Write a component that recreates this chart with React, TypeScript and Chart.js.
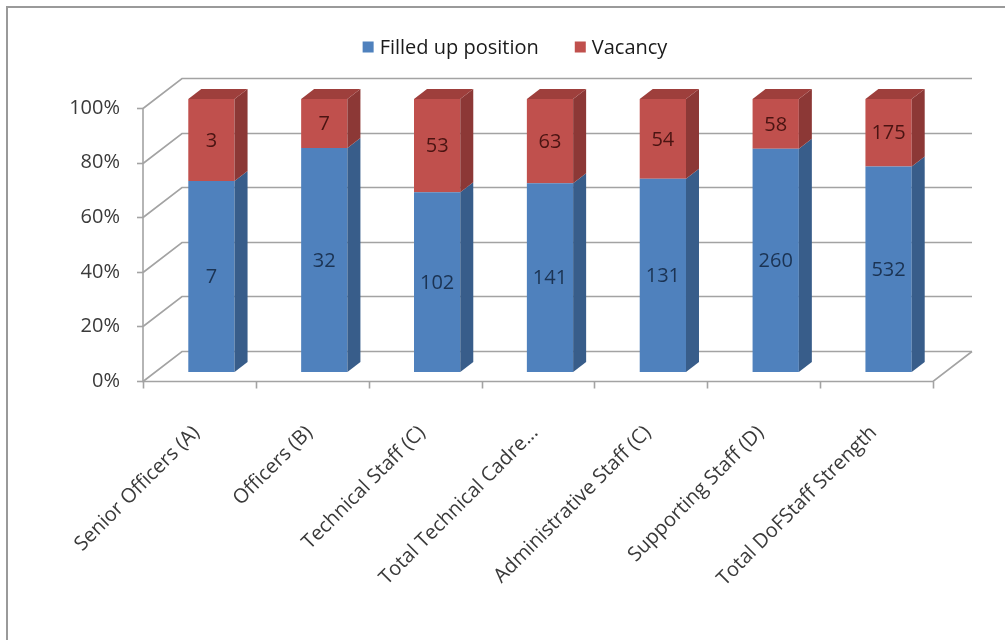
import React, { useEffect, useRef } from 'react';
import { Chart, registerables } from 'chart.js';

Chart.register(...registerables);

const categories = [
  'Senior Officers (A)',
  'Officers (B)',
  'Technical Staff (C)',
  'Total Technical Cadre...',
  'Administrative Staff (C)',
  'Supporting Staff (D)',
  'Total DoFStaff Strength',
];
const seriesNames = ['Filled up position', 'Vacancy'];
const filledUp = [7, 32, 102, 141, 131, 260, 532];
const vacancy = [3, 7, 53, 63, 54, 58, 175];
const yTickValues = [0, 20, 40, 60, 80, 100];

const FONT = '"Open Sans", "Noto Sans", sans-serif';
const FRONT_COLORS = ['#4F81BD', '#C0504D'];
const SIDE_COLORS = ['#385D8A', '#8C3836'];
const TOP_COLORS = ['#4470A8', '#9E3F3C'];
const LABEL_COLORS = ['#1B3353', '#4A1412'];
const GRID = '#a3a3a3';
const TEXT = '#3a3a3a';

// 3D geometry (style constants)
const WALL_DX = 39;
const WALL_DY = 30;
const BAR_SHIFT_X = 12;
const BAR_SHIFT_Y = 9;
const BAR_DX = 13;
const BAR_DY = 10;

const totals = filledUp.map((v, i) => v + vacancy[i]);
const filledPct = filledUp.map((v, i) => (v / totals[i]) * 100);
const vacancyPct = vacancy.map((v, i) => (v / totals[i]) * 100);
const rawValues = [filledUp, vacancy];

const poly = (ctx: CanvasRenderingContext2D, pts: number[][], fill: string) => {
  ctx.beginPath();
  ctx.moveTo(pts[0][0], pts[0][1]);
  for (let i = 1; i < pts.length; i++) ctx.lineTo(pts[i][0], pts[i][1]);
  ctx.closePath();
  ctx.fillStyle = fill;
  ctx.fill();
};

const threeDPlugin = {
  id: 'threeD',
  beforeDraw(chart: any) {
    const ctx = chart.ctx as CanvasRenderingContext2D;
    ctx.save();
    ctx.strokeStyle = '#9a9a9a';
    ctx.lineWidth = 2;
    ctx.beginPath();
    ctx.moveTo(7, chart.height + 5);
    ctx.lineTo(7, 7);
    ctx.lineTo(chart.width + 5, 7);
    ctx.stroke();
    ctx.restore();
  },
  beforeDatasetsDraw(chart: any) {
    const ctx = chart.ctx as CanvasRenderingContext2D;
    const a = chart.chartArea;
    const xs = chart.scales.x;
    const ys = chart.scales.y;
    ctx.save();
    ctx.strokeStyle = GRID;
    ctx.lineWidth = 1.6;
    yTickValues.forEach((v) => {
      const py = Math.round(ys.getPixelForValue(v)) + 0.5;
      ctx.beginPath();
      ctx.moveTo(a.left, py);
      ctx.lineTo(a.left + WALL_DX, py - WALL_DY);
      ctx.lineTo(a.right + WALL_DX, py - WALL_DY);
      ctx.stroke();
      ctx.beginPath();
      ctx.moveTo(a.left - 6, py);
      ctx.lineTo(a.left, py);
      ctx.stroke();
    });
    const y0 = Math.round(ys.getPixelForValue(0)) + 0.5;
    const y100 = Math.round(ys.getPixelForValue(100)) + 0.5;
    ctx.beginPath();
    ctx.moveTo(a.left, y100);
    ctx.lineTo(a.left, y0);
    ctx.lineTo(a.right, y0);
    ctx.lineTo(a.right + WALL_DX, y0 - WALL_DY);
    ctx.stroke();
    const half = (xs.getPixelForValue(1) - xs.getPixelForValue(0)) / 2;
    for (let i = 0; i <= categories.length; i++) {
      const px = Math.round(xs.getPixelForValue(i) - half) + 0.5;
      ctx.beginPath();
      ctx.moveTo(px, y0);
      ctx.lineTo(px, y0 + 7);
      ctx.stroke();
    }
    ctx.restore();
    ctx.save();
    ctx.translate(BAR_SHIFT_X, -BAR_SHIFT_Y);
  },
  afterDatasetsDraw(chart: any) {
    const ctx = chart.ctx as CanvasRenderingContext2D;
    const nSets = chart.data.datasets.length;
    chart.data.datasets.forEach((_: any, di: number) => {
      const meta = chart.getDatasetMeta(di);
      meta.data.forEach((bar: any) => {
        const { x, y, base, width } = bar.getProps(['x', 'y', 'base', 'width'], true);
        const left = x - width / 2;
        const right = x + width / 2;
        const top = Math.min(y, base);
        const bottom = Math.max(y, base);
        poly(ctx, [[right, top], [right + BAR_DX, top - BAR_DY], [right + BAR_DX, bottom - BAR_DY], [right, bottom]], SIDE_COLORS[di]);
        if (di === nSets - 1) {
          poly(ctx, [[left, top], [left + BAR_DX, top - BAR_DY], [right + BAR_DX, top - BAR_DY], [right, top]], TOP_COLORS[di]);
        }
      });
    });
    ctx.font = `20px ${FONT}`;
    ctx.textAlign = 'center';
    ctx.textBaseline = 'middle';
    chart.data.datasets.forEach((_: any, di: number) => {
      const meta = chart.getDatasetMeta(di);
      meta.data.forEach((bar: any, i: number) => {
        const { x, y, base } = bar.getProps(['x', 'y', 'base'], true);
        ctx.fillStyle = LABEL_COLORS[di];
        ctx.fillText(String(rawValues[di][i]), x, (y + base) / 2 + 1);
      });
    });
    ctx.restore();
  },
  afterDraw(chart: any) {
    const ctx = chart.ctx as CanvasRenderingContext2D;
    ctx.save();
    ctx.font = `20px ${FONT}`;
    ctx.textBaseline = 'middle';
    ctx.textAlign = 'left';
    const box = 11;
    const gapBox = 6;
    const gapItem = 36;
    const widths = seriesNames.map((s) => ctx.measureText(s).width);
    const total = widths.reduce((s, w) => s + box + gapBox + w, 0) + gapItem * (seriesNames.length - 1);
    let x = 515 - total / 2;
    const cy = 47;
    seriesNames.forEach((name, i) => {
      ctx.fillStyle = FRONT_COLORS[i];
      ctx.fillRect(x, cy - box / 2, box, box);
      x += box + gapBox;
      ctx.fillStyle = '#1a1a1a';
      ctx.fillText(name, x, cy + 1);
      x += widths[i] + gapItem;
    });
    ctx.restore();
  },
};

export default function App() {
  const ref = useRef<HTMLCanvasElement | null>(null);
  useEffect(() => {
    if (!ref.current) return;
    const chart = new Chart(ref.current, {
      type: 'bar',
      data: {
        labels: categories,
        datasets: [
          {
            label: seriesNames[0],
            data: filledPct,
            backgroundColor: FRONT_COLORS[0],
            barPercentage: 0.41,
            categoryPercentage: 1,
            clip: false as any,
          },
          {
            label: seriesNames[1],
            data: vacancyPct,
            backgroundColor: FRONT_COLORS[1],
            barPercentage: 0.41,
            categoryPercentage: 1,
            clip: false as any,
          },
        ],
      },
      options: {
        animation: false,
        responsive: false,
        maintainAspectRatio: false,
        layout: { padding: { top: 108, right: 72, bottom: 0, left: 0 } },
        plugins: {
          legend: { display: false },
          tooltip: { enabled: false },
        },
        scales: {
          x: {
            stacked: true,
            grid: { display: false, drawTicks: false },
            border: { display: false },
            ticks: {
              autoSkip: false,
              minRotation: 45,
              maxRotation: 45,
              padding: 40,
              labelOffset: -3,
              color: TEXT,
              font: { family: FONT, size: 20 },
            },
            afterFit: (s: any) => {
              s.height = 259;
            },
          },
          y: {
            stacked: true,
            min: 0,
            max: 100,
            grid: { display: false, drawTicks: false },
            border: { display: false },
            ticks: {
              stepSize: 20,
              padding: 23,
              color: TEXT,
              font: { family: FONT, size: 20 },
              callback: (v: any) => `${v}%`,
            },
            afterFit: (s: any) => {
              s.width = 143;
            },
          },
        },
      },
      plugins: [threeDPlugin],
    });
    return () => chart.destroy();
  }, []);
  return (
    <div style={{ position: 'absolute', left: 0, top: 0, width: 1005, height: 640, background: '#fff' }}>
      <canvas ref={ref} width={1005} height={640} />
    </div>
  );
}
